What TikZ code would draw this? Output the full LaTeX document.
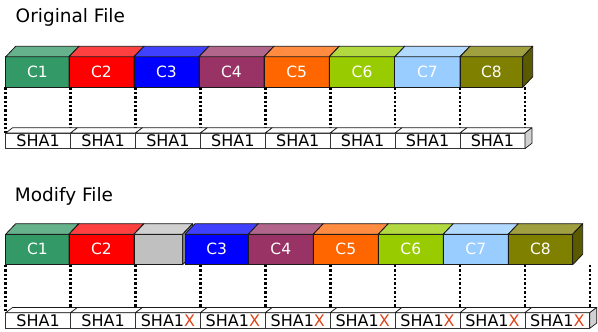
\documentclass[tikz,border=0pt]{standalone}
\usepackage{fontspec}
\setmainfont{DejaVu Sans}
\usetikzlibrary{calc}

% chunk colours
\definecolor{chunkA}{HTML}{339966}
\definecolor{chunkB}{HTML}{FF0000}
\definecolor{chunkC}{HTML}{0000FF}
\definecolor{chunkD}{HTML}{993366}
\definecolor{chunkE}{HTML}{FF6600}
\definecolor{chunkF}{HTML}{99CC00}
\definecolor{chunkG}{HTML}{99CCFF}
\definecolor{chunkH}{HTML}{808000}
\definecolor{chunkNew}{HTML}{C0C0C0}
\definecolor{changed}{HTML}{E0441C}

\tikzset{
  edge/.style={draw=black!90, line width=0.8pt, line join=round},
  chunk/.style={edge, rectangle, inner sep=0pt, outer sep=0pt, anchor=north west,
    minimum height=30.5pt, text=white, font=\fontsize{15.5}{15.5}\selectfont},
  digest/.style={draw=black!80, line width=0.7pt, fill=white, rectangle, inner sep=0pt,
    outer sep=0pt, anchor=north west, minimum width=64.9pt, minimum height=15.6pt,
    font=\fontsize{16}{16}\selectfont},
  dotlink/.style={line width=2.6pt, dash pattern=on 2.4pt off 2pt, black},
  heading/.style={anchor=base west, inner sep=0pt, font=\fontsize{18.5}{18.5}\selectfont},
}

% a 3-D chunk: name, left x, right x, front top y, colour, label
\newcommand\chunkbox[6]{%
  \node[chunk, fill=#5, minimum width={(#3-(#2))*1pt}] (#1) at ({#2},{#4})
    {\raisebox{1.5pt}{#6}};
  \filldraw[edge, fill=#5!75!white] (#1.north west) -- ++(10,-10.5)
    -- ($(#1.north east)+(10,-10.5)$) -- (#1.north east) -- cycle;
  \filldraw[edge, fill=#5!70!black] (#1.north east) -- ++(10,-10.5)
    -- ++(0,30.5) -- (#1.south east) -- cycle;
}

% one hash cell: name, left x, front top y, text
\newcommand\hashcell[4]{%
  \node[digest] (#1) at ({#2},{#3}) {#4};
  \filldraw[edge, line width=0.7pt, fill=white] (#1.north west) -- ++(7,-5.3)
    -- ($(#1.north east)+(7,-5.3)$) -- (#1.north east) -- cycle;
}

\newcommand\hashX{SHA1\textcolor{changed}{X}}

\begin{document}
\begin{tikzpicture}[x=1pt, y=-1pt]
\useasboundingbox (0,0) rectangle (598,332);

% ---------- original file ----------
\node[heading] (t1) at (15.5,22.7) {Original File};

\chunkbox{o1}{5.7}{69}{56.8}{chunkA}{C1}
\chunkbox{o2}{69}{134}{56.8}{chunkB}{C2}
\chunkbox{o3}{134}{199}{56.8}{chunkC}{C3}
\chunkbox{o4}{199}{264}{56.8}{chunkD}{C4}
\chunkbox{o5}{264}{329.3}{56.8}{chunkE}{C5}
\chunkbox{o6}{329.3}{394.8}{56.8}{chunkF}{C6}
\chunkbox{o7}{394.8}{460}{56.8}{chunkG}{C7}
\chunkbox{o8}{460}{522.7}{56.8}{chunkH}{C8}

\foreach \k in {0,...,8}{
  \coordinate (ot\k) at ({5.7+64.9*\k},87.3);
  \coordinate (ob\k) at ({5.7+64.9*\k},133);
  \draw[dotlink] (ot\k) -- (ob\k);
}

\foreach \k in {1,...,8}{
  \hashcell{oh\k}{5.7+64.9*(\k-1)}{133}{SHA1}
}
\filldraw[edge, line width=0.7pt, fill=black!18] (oh8.north east) -- ++(7,-5.3)
  -- ++(0,15.6) -- (oh8.south east) -- cycle;

% ---------- modified file ----------
\node[heading] (t2) at (14.7,201.7) {Modify File};

\chunkbox{m1}{5.7}{69}{234.2}{chunkA}{C1}
\chunkbox{m2}{69}{134}{234.2}{chunkB}{C2}
\chunkbox{mn}{134}{182.7}{234.2}{chunkNew}{}
\chunkbox{m3}{185}{248.3}{234.2}{chunkC}{C3}
\chunkbox{m4}{248.3}{313.3}{234.2}{chunkD}{C4}
\chunkbox{m5}{313.3}{378.3}{234.2}{chunkE}{C5}
\chunkbox{m6}{378.3}{443.3}{234.2}{chunkF}{C6}
\chunkbox{m7}{443.3}{508.3}{234.2}{chunkG}{C7}
\chunkbox{m8}{508.3}{572.7}{234.2}{chunkH}{C8}

\foreach \k in {0,...,9}{
  \coordinate (mt\k) at ({5.7+64.9*\k},264.7);
  \coordinate (mb\k) at ({5.7+64.9*\k},312.7);
  \draw[dotlink] (mt\k) -- (mb\k);
}

\hashcell{mh1}{5.7}{312.7}{SHA1}
\hashcell{mh2}{70.6}{312.7}{SHA1}
\foreach \k in {3,...,9}{
  \hashcell{mh\k}{5.7+64.9*(\k-1)}{312.7}{\hashX}
}
\filldraw[edge, line width=0.7pt, fill=black!18] (mh9.north east) -- ++(7,-5.3)
  -- ++(0,15.6) -- (mh9.south east) -- cycle;
\end{tikzpicture}
\end{document}
